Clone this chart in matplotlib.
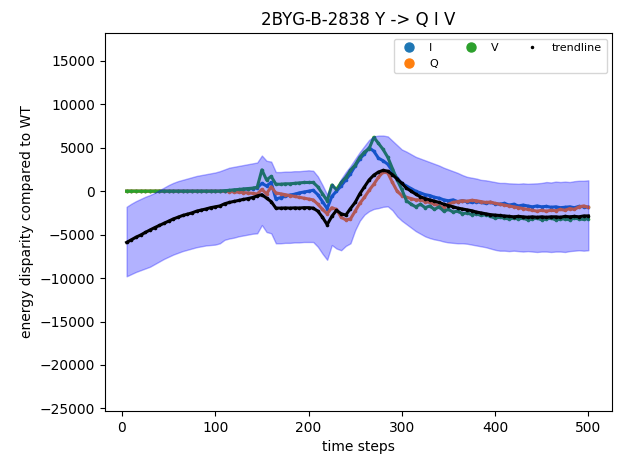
import numpy as np
import matplotlib
matplotlib.use("Agg")
import matplotlib.pyplot as plt
from matplotlib.lines import Line2D

title = "2BYG-B-2838 Y -> Q I V"
xlabel = "time steps"
ylabel = "energy disparity compared to WT"

steps = np.arange(5, 501, 5)

trend = [
    -5900, -5600, -5300, -5050, -4750, -4470, -4200, -3950, -3700, -3450,
    -3200, -3000, -2800, -2650, -2500, -2300, -2170, -2050, -1900, -1800,
    -1700, -1450, -1300, -1180, -1070, -950, -850, -730, -550, -400,
    -800, -1200, -1950, -1950, -1930, -1950, -1920, -1940, -1900, -1900,
    -1950, -2300, -3000, -3850, -2900, -2200, -2600, -2750, -2000, -1300,
    -300, 500, 1300, 1850, 2200, 2400, 2300, 1900, 1400, 900,
    350, 0, -350, -650, -850, -1000, -1150, -1300, -1500, -1650,
    -1800, -1950, -2050, -2150, -2250, -2400, -2500, -2600, -2700, -2750,
    -2800, -2850, -2900, -2950, -2900, -2950, -3000, -2950, -3000, -2950,
    -3000, -2950, -2950, -3000, -2900, -2950, -2900, -2950, -2850, -2850,
]

upper = [
    -1800, -1450, -1150, -900, -650, -450, -200, 100, 400, 700,
    950, 1150, 1300, 1450, 1600, 1750, 1850, 1950, 2050, 2150,
    2300, 2500, 2700, 2800, 2900, 3000, 3100, 3200, 3300, 4100,
    3500, 3400, 2200, 2200, 2250, 2250, 2300, 2300, 2350, 2400,
    2350, 1700, 700, -400, 900, 200, 1400, 2200, 2900, 3700,
    4500, 5200, 5900, 6300, 6400, 6400, 6300, 5800, 5300, 4800,
    4550, 4250, 3950, 3750, 3550, 3350, 3150, 2950, 2700, 2500,
    2300, 2100, 1850, 1650, 1550, 1450, 1300, 1250, 1150, 1050,
    950, 950, 900, 880, 850, 900, 850, 880, 900, 950,
    1050, 1000, 1100, 1050, 1100, 1050, 1150, 1200, 1200, 1250,
]

lower = [
    -9800, -9550, -9300, -9100, -8900, -8700, -8400, -8100, -7800, -7550,
    -7300, -7100, -6900, -6750, -6600, -6450, -6350, -6250, -6200, -6150,
    -6000, -5600, -5450, -5350, -5200, -5100, -5000, -4900, -4850, -3900,
    -4700, -4850, -6000, -6000, -5950, -5950, -5900, -5900, -5850, -5850,
    -5850, -6400, -7200, -7900, -6200, -6600, -6800, -6300, -6000, -4500,
    -3400, -2700, -2300, -2050, -1950, -1800, -1750, -2200, -2900, -3400,
    -3800, -4200, -4600, -4900, -5200, -5400, -5550, -5650, -5800, -5900,
    -5950, -6000, -6000, -6050, -6150, -6250, -6350, -6450, -6600, -6750,
    -6850, -6850, -6900, -6850, -6900, -6950, -6900, -6950, -7000, -6950,
    -6950, -7000, -6950, -6950, -7000, -6900, -6850, -6800, -6850, -6800,
]

series_I = [
    0, 0, 0, 0, 0, 0, 0, 0, 0, 0,
    0, 0, 0, 0, 0, 0, 0, 0, 0, 0,
    0, 30, 60, 100, 150, 200, 250, 300, 400, 900,
    600, 1000, -900, -750, -600, -450, -350, -200, -100, 0,
    100, -400, -1200, -2000, -600, 0, 600, 1300, 2000, 2900,
    3700, 4300, 5000, 4600, 3800, 3500, 3100, 2300, 1500, 900,
    600, 300, 0, -200, -400, -500, -700, -800, -1000, -1100,
    -1000, -1200, -1100, -1200, -1300, -1200, -1300, -1400, -1300, -1450,
    -1500, -1400, -1600, -1500, -1700, -1600, -1700, -1800, -1700, -1800,
    -1750, -1850, -1800, -1900, -1850, -1800, -1900, -1750, -1800, -1850,
]

series_Q = [
    0, 0, 0, 0, 0, 0, 0, 0, 0, 0,
    0, 0, 0, 0, 0, 0, 0, 0, 0, 0,
    0, -20, -50, -80, -120, -160, -200, -250, -320, 200,
    -300, 500, -200, -300, -400, -500, -600, -700, -800, -900,
    -1000, -1500, -2100, -2600, -1900, -2100, -3000, -3300, -3200, -2300,
    -1400, -700, 100, 800, 1600, 2200, 2100, 1000, 0, -500,
    -700, -850, -1000, -1000, -1200, -1300, -1500, -1700, -1900, -1500,
    -1300, -1200, -1100, -1150, -1050, -1100, -1200, -1300, -1250, -1400,
    -1500, -1600, -1700, -1800, -1900, -2000, -2100, -2200, -2300, -2200,
    -2300, -2200, -2250, -2100, -2200, -2000, -2100, -1800, -1700, -1850,
]

series_V = [
    0, 0, 0, 0, 0, 0, 0, 0, 0, 0,
    0, 0, 0, 0, 0, 0, 0, 0, 0, 0,
    0, 50, 100, 150, 200, 250, 300, 350, 450, 2450,
    1300, 1700, 800, 800, 850, 850, 900, 950, 1000, 1000,
    1000, 500, -300, -1100, 700, 200, 1000, 1600, 2400, 3000,
    3900, 4500, 4900, 6200, 5500, 4800, 3900, 2600, 1300, 200,
    -1100, -1500, -1800, -1500, -1900, -1700, -2100, -1800, -2300, -2100,
    -2400, -2300, -2600, -2500, -2700, -2600, -2800, -2700, -2900, -3100,
    -3000, -3100, -3200, -3100, -3200, -3100, -3300, -3200, -3100, -3300,
    -3200, -3100, -3300, -3200, -3200, -3300, -3100, -3200, -3250, -3150,
]

labels = ["I", "Q", "V"]
colors = ["#1f77b4", "#ff7f0e", "#2ca02c"]
yticks = [-25000, -20000, -15000, -10000, -5000, 0, 5000, 10000, 15000]
xticks = [0, 100, 200, 300, 400, 500]

fig = plt.figure(figsize=(6.18, 4.58), dpi=100)
ax = fig.add_axes([0.1694, 0.1026, 0.8214, 0.8253])

for vals, c in zip([series_I, series_Q, series_V], colors):
    ax.plot(steps, vals, color=c, lw=2.2, marker="o", ms=2.6, mew=0, zorder=2)

ax.fill_between(steps, lower, upper, color="blue", alpha=0.3, zorder=3)
ax.plot(steps, trend, color="black", lw=2.2, marker="o", ms=2.6, mew=0, zorder=4)

ax.set_xlim(-18.5, 525.7)
ax.set_ylim(-25300, 18200)
ax.set_xticks(xticks)
ax.set_yticks(yticks)
ax.set_title(title, fontsize=12)
ax.set_xlabel(xlabel, fontsize=10)
ax.set_ylabel(ylabel, fontsize=10)

handles = [Line2D([], [], ls="", marker="o", ms=6.5, color=c) for c in colors]
handles.append(Line2D([], [], ls="", marker=".", ms=3, color="black"))
ax.legend(handles, labels + ["trendline"], loc="upper right", ncol=3, fontsize=8)

fig.savefig("out.png", dpi=100)
